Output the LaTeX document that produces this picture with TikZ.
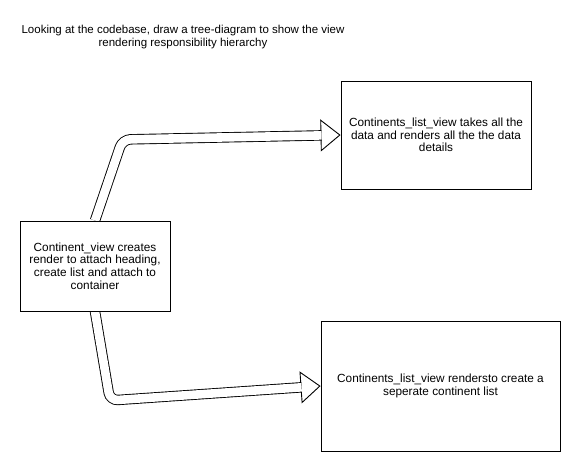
\documentclass[tikz,border=0pt]{standalone}
\usepackage{fontspec}
\setmainfont{Liberation Sans}
\usetikzlibrary{arrows.meta, calc, backgrounds}

\begin{document}
\begin{tikzpicture}[
  x=1pt, y=-1pt,
  font=\fontsize{11.8}{12.6}\selectfont,
  box/.style={rectangle, draw, fill=white, line width=0.9pt, align=center, inner sep=0pt},
  flexshaft/.style={double, double distance=8.6pt, line width=0.9pt, rounded corners=8pt, shorten >=19pt},
  flexhead/.style={-{Triangle[length=20pt, width=32pt, fill=white]}, line width=0.9pt}]

  \useasboundingbox (0,0) rectangle (562,452);

  \node[align=center, font=\fontsize{11.5}{12.2}\selectfont] (title) at (183,37)
    {Looking at the codebase, draw a tree-diagram to show the view\\rendering responsibility hierarchy};

  \node[box, minimum width=150pt, minimum height=90pt] (view) at (95,266)
    {Continent\_view creates\\render to attach heading,\\create list and attach to\\container};
  \node[box, minimum width=190pt, minimum height=108pt] (listall) at (436,135)
    {Continents\_list\_view takes all the\\data and renders all the the data\\details};
  \node[box, minimum width=239pt, minimum height=130pt] (listsep) at (440.5,386)
    {Continents\_list\_view rendersto create a\\seperate continent list};

  \coordinate (bendup) at (122.5,139.5);
  \coordinate (benddown) at (110,400.5);

  \begin{scope}[on background layer]
    \draw[flexhead] ($(listall.west)!20pt!(bendup)$) -- (listall.west);
    \draw[flexshaft] (view.north) -- (bendup) -- (listall.west);
    \draw[flexhead] ($(listsep.west)!20pt!(benddown)$) -- (listsep.west);
    \draw[flexshaft] (view.south) -- (benddown) -- (listsep.west);
  \end{scope}
\end{tikzpicture}
\end{document}
